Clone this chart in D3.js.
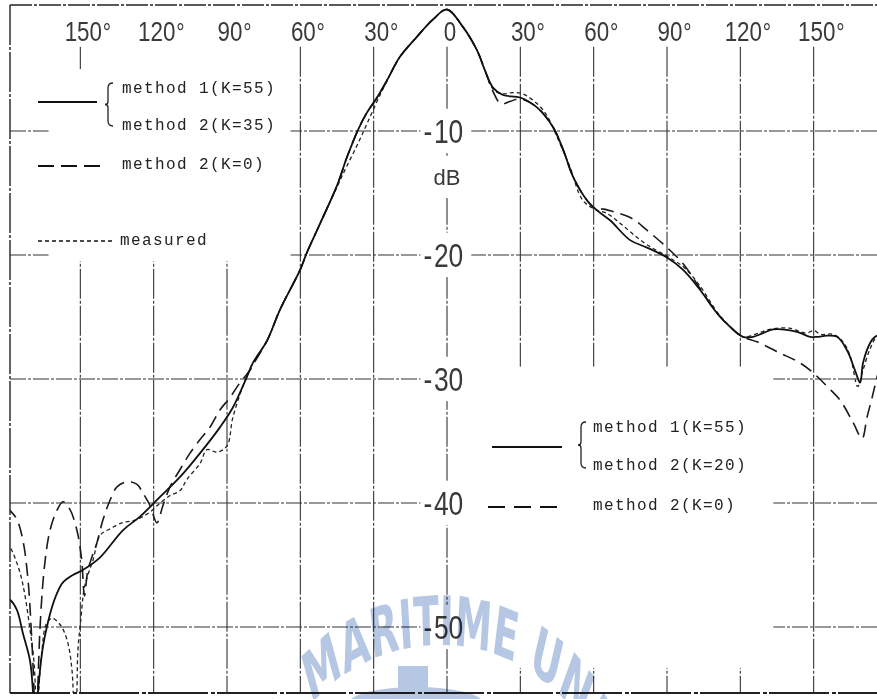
<!DOCTYPE html>
<html>
<head>
<meta charset="utf-8" />
<title>Radiation pattern - D3</title>
<style>
html, body {
  margin: 0;
  padding: 0;
  background: #fff;
}
svg { display: block; }
.grid { stroke: #333; stroke-width: 1.1; fill: none; stroke-dasharray: 16,2,3,2; }
.vgrid { stroke: #333; stroke-width: 1.1; fill: none; stroke-dasharray: 30,2,3,2; }
.frame { stroke: #222; fill: none; }
.tick-label { font-family: 'Liberation Sans', Arial, sans-serif; fill: #3a3a3a; }
.legend { font-family: 'Liberation Mono', 'DejaVu Sans Mono', monospace; font-size: 16px; letter-spacing: 1.4px; fill: #222; }
</style>
</head>
<body>
<div id="chart"></div>

<script src="https://d3js.org/d3.v7.min.js"></script>
<script>

// ---------------------------------------------------------
// Data

const angleTicks = [-150, -120, -90, -60, -30, 0, 30, 60, 90, 120, 150]
const dbTicks = [-10, -20, -30, -40, -50]

// method 1 (K=55) / method 2 (K=35 left, K=20 right) - solid
const solidAngle = [-180, -178.8, -176, -173.5, -170.6, -169.4, -168.4, -167.6, -166.5, -165.3, -163.7,
  -161.6, -159.6, -157.1, -153, -149, -142, -132.6, -125.6, -117.4, -109.2, -101.1, -92.9, -87.6,
  -81.8, -79.4, -73.6, -68.3, -60.1, -57.3, -52, -45, -40.9, -36.4, -32.7, -28.6, -24.5, -19.2,
  -12.3, -5.7, 0, 6.5, 12.3, 15.5, 18.8, 22.9, 29.9, 36.8, 43.4, 47.5, 51.6, 57.3, 61.4, 66.7,
  74.9, 81.8, 90, 96.6, 103.5, 110.5, 115.8, 121.1, 125.2, 129.3, 133.4, 143.2, 148.5, 151.4,
  155.5, 159.6, 163.7, 166.9, 169, 170.2, 173.1, 175.1, 180]
const solidDb = [-47.7, -47.8, -48.6, -50.5, -52.7, -55.2, -61, -55.9, -53.5, -51.6, -50,
  -48.4, -47.3, -46.4, -45.8, -45.4, -44.4, -42.2, -41.1, -39.5, -37.9, -36.0, -33.9, -32.3,
  -29.8, -28.7, -26.9, -24.4, -21.2, -19.8, -17.5, -14.4, -12.1, -9.9, -8.5, -7.3, -5.9, -4.0,
  -2.4, -1.0, -0.2, -1.6, -3.5, -5.1, -6.5, -7.1, -7.3, -8.1, -9.7, -11.5, -13.7, -15.6, -16.4, -17.2,
  -18.8, -19.4, -20.2, -21.2, -22.8, -24.7, -25.8, -26.6, -26.6, -26.3, -26.0, -26.2, -26.6, -26.6,
  -26.5, -26.6, -27.7, -29.3, -30.3, -28.7, -27.1, -26.6, -26.2]

// method 2 (K=0) - dashed
const k0Angle = [-180, -178.8, -176, -173.5, -171.5, -170, -168.8, -168.2, -167.4, -166.2, -164.5,
  -162.4, -159.6, -157.1, -154.3, -151.4, -149.5, -148.3, -147, -145, -143.2, -140.8, -137.9, -135,
  -130.9, -126.8, -124.4, -121.5, -118.7, -116.2, -113.3, -109.2, -105.2, -101.1, -97, -92.9, -88.8,
  -84.7, -80.6, -78.6, -73.6, -68.3, -60.1, -57.3, -52, -45, -40.9, -36.4, -32.7, -28.6, -24.5,
  -19.2, -12.3, -5.7, 0, 6.5, 12.3, 15.5, 18.8, 22, 26, 29.9, 36.8, 43.4, 47.5, 51.6, 57.3, 61, 64,
  69.6, 76.1, 81.8, 90, 96.6, 103.5, 110.5, 115.8, 121.1, 126.8, 136.2, 144.4, 149.8, 155.5, 160.8,
  166.1, 169.8, 171.8, 173.9, 176, 180]
const k0Db = [-40.4, -40.6, -41.3, -43, -46, -50.5, -56, -62, -55, -49, -44.8,
  -42.2, -40.6, -39.9, -40.5, -42.2, -44.5, -47.5, -45.5, -44.2, -43.2, -41.4, -39.8, -38.7,
  -38.3, -38.5, -39.2, -40.2, -41.6, -40.2, -38.7, -37.3, -36, -34.9, -33.9, -32.5, -31.5,
  -30.3, -29.3, -28.6, -26.9, -24.4, -21.2, -19.8, -17.5, -14.4, -12.1, -9.9, -8.5, -7.3, -5.9,
  -4.0, -2.4, -1.0, -0.2, -1.6, -3.5, -5.1, -6.8, -7.8, -7.6, -7.4, -8.1, -9.7, -11.5, -13.7, -15.6, -16.3, -16.3,
  -16.6, -17.1, -18, -19.4, -20.7, -22.7, -24.7, -25.8, -26.6, -27, -27.9, -28.7, -29.5, -30.6, -31.7,
  -33.5, -34.8, -33.1, -31.5, -29.8, -27]

// measured - dotted
const measAngle = [-180, -179.2, -177.6, -174.7, -172.7, -170.6, -169, -168.2, -167.6, -167, -165.7,
  -164, -161.6, -158.3, -155.5, -153.4, -152.3, -151.4, -151, -149.8, -148.5, -146.9, -144.8,
  -141.9, -138, -133, -128, -122, -117.4, -113.3, -109.2, -106.4, -101, -98.2, -94, -90, -87.6,
  -82.6, -79.4, -73.6, -68.3, -60.1, -57.3, -52, -45, -40.9, -36.4, -32.7, -28.6, -25.4, -19.2,
  -12.3, -5.7, 0, 6.5, 12.3, 15.5, 18.8, 22.5, 27, 31, 39.3, 46.2, 50.3, 55.6, 61.4, 65, 70, 76, 82,
  90, 97, 103.5, 110.5, 116, 121, 126, 132, 140, 147, 150, 153, 158, 162, 165, 168, 170, 173, 176, 180]
const measDb = [-43.2, -43.4, -44, -45.6, -47.4, -50.2, -52.7, -56, -60, -55.2, -51.9,
  -49.8, -49.3, -49.8, -51, -53.5, -60, -55.2, -51.9, -49.4, -47, -45.8, -44.6,
  -42.6, -42.1, -41.6, -41.4, -40.8, -40, -39.4, -39.0, -38.1, -36.8, -35.7, -35.9, -35.4, -33.1,
  -30.1, -28.7, -26.9, -24.4, -21.2, -19.8, -17.5, -14.5, -12.8, -11, -9.4, -7.6, -6.3, -4.0,
  -2.4, -1.0, -0.2, -1.6, -3.5, -5.1, -6.6, -7.0, -6.9, -7.0, -8.3, -11, -12.9, -15.6, -16.4, -16.6, -17.3, -18.3, -19.2,
  -20.1, -21, -22.5, -24.6, -25.8, -26.6, -26.4, -26, -25.9, -26.3, -26.1, -26.4, -26.4, -27, -28.2, -30.6, -29.4, -27.6, -26.5, -26]

const legendLeft = ['method 1(K=55)', 'method 2(K=35)', 'method 2(K=0)', 'measured']
const legendRight = ['method 1(K=55)', 'method 2(K=20)', 'method 2(K=0)']
const watermarkText = 'KOREA MARITIME UNIVERSITY'

// ---------------------------------------------------------
// Setup

const w = 877
const h = 699

const x = d3.scaleLinear().domain([-180, 180]).range([7, 887])
const y = d3.scaleLinear().domain([0, -55]).range([7, 689])
const bottom = 693
const left = 10

const svg = d3.select('#chart').append('svg')
  .attr('width', w)
  .attr('height', h)

svg.append('rect').attr('width', w).attr('height', h).attr('fill', '#fff')

svg.append('clipPath').attr('id', 'plot-clip')
  .append('rect')
  .attr('x', left).attr('y', 5)
  .attr('width', w - left).attr('height', bottom - 5)

// ---------------------------------------------------------
// Grid

svg.selectAll('.hgrid')
  .data(dbTicks)
  .enter().append('line')
  .attr('class', 'grid')
  .attr('x1', left).attr('x2', w)
  .attr('y1', d => y(d)).attr('y2', d => y(d))

svg.selectAll('.vg')
  .data(angleTicks)
  .enter().append('line')
  .attr('class', 'vgrid')
  .attr('x1', d => x(d)).attr('x2', d => x(d))
  .attr('y1', y(-3.2)).attr('y2', bottom)

// blank areas of the paper where the grid was not drawn (legends)
const blanks = [
  [-163, -64, -5, -20.5],
  [-143, -64, -2.7, -5],
  [6, 133.5, -29, -53.3]
]
svg.selectAll('.blank')
  .data(blanks)
  .enter().append('rect')
  .attr('fill', '#fff')
  .attr('x', d => x(d[0]))
  .attr('width', d => x(d[1]) - x(d[0]))
  .attr('y', d => y(d[2]))
  .attr('height', d => y(d[3]) - y(d[2]))

// ---------------------------------------------------------
// Frame

svg.append('line').attr('class', 'frame')
  .attr('x1', left).attr('x2', w).attr('y1', 5).attr('y2', 5)
  .attr('stroke-width', 1.6).attr('stroke-dasharray', '22,2,3,2')
svg.append('line').attr('class', 'frame')
  .attr('x1', left).attr('x2', left).attr('y1', 5).attr('y2', bottom)
  .attr('stroke-width', 1.4).attr('stroke-dasharray', '40,2,3,2')
svg.append('line').attr('class', 'frame')
  .attr('x1', left).attr('x2', w).attr('y1', bottom).attr('y2', bottom)
  .attr('stroke-width', 2.2).attr('stroke-dasharray', '60,3,4,2')

// ---------------------------------------------------------
// Labels

const sx = 0.8

// angle labels along the top, number centred on its grid line
const topLabels = svg.append('g')
angleTicks.forEach(t => {
  const g = topLabels.append('g')
    .attr('transform', `translate(${x(t) + 3},41) scale(${sx},1)`)
  const txt = g.append('text')
    .attr('class', 'tick-label')
    .attr('font-size', 28)
    .text(Math.abs(t))
  const bw = txt.node().getComputedTextLength()
  txt.attr('x', -bw / 2)
  if (t !== 0) {
    txt.append('tspan')
      .attr('font-size', 26)
      .attr('dx', 1)
      .text('\u00b0')
  }
})

// dB labels on the centre line
const dbLabels = svg.append('g')
dbTicks.forEach(v => {
  const g = dbLabels.append('g')
    .attr('transform', `translate(${x(0)},${y(v) + 11.5}) scale(${sx},1)`)
  const txt = g.append('text')
    .attr('class', 'tick-label')
    .attr('font-size', 33)
  txt.append('tspan').text('-')
  txt.append('tspan').attr('dx', 2).text(Math.abs(v))
  const full = txt.node().getComputedTextLength()
  const num = txt.node().getSubStringLength(1, String(Math.abs(v)).length)
  txt.attr('x', -(full - num) - num / 2)
  const bb = txt.node().getBBox()
  g.insert('rect', 'text')
    .attr('fill', '#fff')
    .attr('x', bb.x - 4).attr('y', bb.y - 4)
    .attr('width', bb.width + 14).attr('height', bb.height + 8)
})

const unit = svg.append('text')
  .attr('class', 'tick-label')
  .attr('x', x(0))
  .attr('y', 185)
  .attr('font-size', 22)
  .attr('text-anchor', 'middle')
  .text('dB')
const ub = unit.node().getBBox()
svg.insert('rect', () => unit.node())
  .attr('fill', '#fff')
  .attr('x', ub.x - 3).attr('y', ub.y - 8)
  .attr('width', ub.width + 6).attr('height', ub.height + 16)

// ---------------------------------------------------------
// Watermark of the scan (drawn on top, multiplied like ink)

const wmColor = '#b6c7e3'
const wm = svg.append('g').style('mix-blend-mode', 'multiply')
const ws = 0.55
const wr = 168
const warc = wm.append('g').attr('transform', `translate(440,813) scale(${ws},1)`)
warc.append('path')
  .attr('id', 'wm-arc')
  .attr('fill', 'none')
  .attr('d', `M${-wr / ws},0 A${wr / ws},${wr} 0 0 1 ${wr / ws},0`)
const wtext = warc.append('text')
  .attr('font-family', "'DejaVu Sans', sans-serif")
  .attr('font-weight', 'bold')
  .attr('font-size', 68)
  .attr('fill', wmColor)
const wpath = wtext.append('textPath')
  .attr('href', '#wm-arc')
  .attr('text-anchor', 'middle')
  .text(watermarkText)
const arcLen = d3.select('#wm-arc').node().getTotalLength()
let shift = 30
try {
  shift = (wtext.node().getSubStringLength(11, 1) + wtext.node().getSubStringLength(12, 1)) / 2
} catch (e) {}
wpath.attr('startOffset', arcLen / 2 + shift)

wm.append('ellipse')
  .attr('cx', 416).attr('cy', 703).attr('rx', 67).attr('ry', 16)
  .attr('fill', wmColor)
wm.append('rect')
  .attr('x', 398).attr('y', 666).attr('width', 30).attr('height', 40)
  .attr('fill', wmColor)

// ---------------------------------------------------------
// Curves

const line = d3.line()
  .x(d => x(d[0]))
  .y(d => y(d[1]))
  .curve(d3.curveCatmullRom.alpha(0.5))

const curves = svg.append('g').attr('clip-path', 'url(#plot-clip)')

curves.append('path')
  .datum(d3.zip(measAngle, measDb))
  .attr('d', line)
  .attr('fill', 'none')
  .attr('stroke', '#222')
  .attr('stroke-width', 1.3)
  .attr('stroke-dasharray', '4,3')

curves.append('path')
  .datum(d3.zip(k0Angle, k0Db))
  .attr('d', line)
  .attr('fill', 'none')
  .attr('stroke', '#1a1a1a')
  .attr('stroke-width', 1.6)
  .attr('stroke-dasharray', '13,7')

curves.append('path')
  .datum(d3.zip(solidAngle, solidDb))
  .attr('d', line)
  .attr('fill', 'none')
  .attr('stroke', '#111')
  .attr('stroke-width', 1.8)

// ---------------------------------------------------------
// Legends

function brace(g, bx, y0, y1) {
  const ym = (y0 + y1) / 2
  g.append('path')
    .attr('fill', 'none')
    .attr('stroke', '#222')
    .attr('stroke-width', 1.3)
    .attr('d', `M${bx + 5},${y0} Q${bx},${y0} ${bx},${y0 + 5} L${bx},${ym - 3} Q${bx},${ym} ${bx - 3},${ym}` +
      ` Q${bx},${ym} ${bx},${ym + 3} L${bx},${y1 - 5} Q${bx},${y1} ${bx + 5},${y1}`)
}

function sample(g, x1, x2, yy, dash, sw) {
  g.append('line')
    .attr('x1', x1).attr('x2', x2).attr('y1', yy).attr('y2', yy)
    .attr('stroke', '#111')
    .attr('stroke-width', sw)
    .attr('stroke-dasharray', dash)
}

const legL = svg.append('g')
sample(legL, 38, 97, 102, null, 2)
brace(legL, 108, 83, 126)
sample(legL, 38, 100, 166, '16,7', 2)
sample(legL, 38, 115, 241, '4,3', 1.5)
const legLY = [93, 130, 169, 245]
legL.selectAll('text')
  .data(legendLeft)
  .enter().append('text')
  .attr('class', 'legend')
  .attr('x', (d, i) => i === 3 ? 120 : 122)
  .attr('y', (d, i) => legLY[i])
  .text(d => d)

const legR = svg.append('g')
sample(legR, 492, 562, 447, null, 2)
brace(legR, 581, 422, 468)
sample(legR, 488, 562, 507, '17,9', 2)
const legRY = [432, 470, 510]
legR.selectAll('text')
  .data(legendRight)
  .enter().append('text')
  .attr('class', 'legend')
  .attr('x', 593)
  .attr('y', (d, i) => legRY[i])
  .text(d => d)

</script>
</body>
</html>
